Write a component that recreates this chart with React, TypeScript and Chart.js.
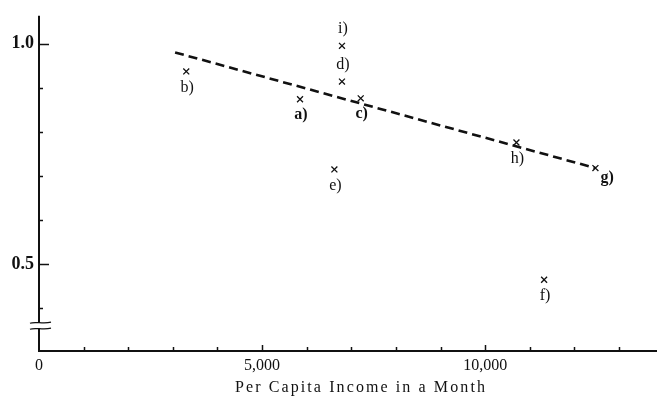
import React, { useEffect, useRef } from "react";
import { Chart, registerables } from "chart.js";

Chart.register(...registerables);

// ---- data ----
const pointLabels = ["a)", "b)", "c)", "d)", "e)", "f)", "g)", "h)", "i)"];
const incomeValues = [5850, 3300, 7210, 6790, 6620, 11320, 12470, 10700, 6790];
const ratioValues = [0.874, 0.937, 0.876, 0.914, 0.715, 0.465, 0.718, 0.776, 0.995];
const labelSides = ["below", "below", "below", "above", "below", "below", "right", "below", "above"];
const boldLabels = ["a)", "c)", "g)"];

const trendIncome = [3050, 12470];
const trendRatio = [0.98, 0.718];

const xTickValues = [0, 1000, 2000, 3000, 4000, 5000, 6000, 7000, 8000, 9000, 10000, 11000, 12000, 13000];
const xMajorTicks = [0, 5000, 10000];
const xMajorLabels = ["0", "5,000", "10,000"];

const yTickValues = [0.4, 0.5, 0.6, 0.7, 0.8, 0.9, 1.0];
const yMajorTicks = [0.5, 1.0];
const yMajorLabels = ["0.5", "1.0"];
const yBreakValue = 0.361;

const xTitle = "Per Capita Income in a Month";

const SERIF = "'Liberation Serif', 'DejaVu Serif', serif";

const decorPlugin = {
  id: "decor",
  afterDraw(chart: any) {
    const { ctx, chartArea, scales } = chart;
    const xs = scales.x;
    const ys = scales.y;
    const L = chartArea.left;
    const B = chartArea.bottom;
    ctx.save();
    ctx.strokeStyle = "#111";
    ctx.fillStyle = "#111";
    ctx.lineCap = "butt";

    // axes
    ctx.lineWidth = 2;
    ctx.beginPath();
    ctx.moveTo(L, chartArea.top);
    ctx.lineTo(L, B + 1);
    ctx.moveTo(L - 1, B);
    ctx.lineTo(chart.width, B);
    ctx.stroke();

    // y ticks (inward)
    ctx.lineWidth = 1.5;
    yTickValues.forEach((v) => {
      const py = Math.round(ys.getPixelForValue(v)) + 0.5;
      const len = yMajorTicks.includes(v) ? 10 : 4;
      ctx.beginPath();
      ctx.moveTo(L, py);
      ctx.lineTo(L + len, py);
      ctx.stroke();
    });

    // x ticks (inward)
    xTickValues.forEach((v) => {
      if (v === 0) return;
      const px = Math.round(xs.getPixelForValue(v)) + 0.5;
      const len = xMajorTicks.includes(v) ? 6 : 4;
      ctx.beginPath();
      ctx.moveTo(px, B);
      ctx.lineTo(px, B - len);
      ctx.stroke();
    });

    // axis break
    const by = ys.getPixelForValue(yBreakValue);
    ctx.fillStyle = "#fff";
    ctx.fillRect(L - 3, by - 3, 6, 6);
    ctx.lineWidth = 1.2;
    [-3, 3].forEach((off) => {
      ctx.beginPath();
      const y0 = by + off;
      ctx.moveTo(L - 9, y0 + 0.5);
      ctx.bezierCurveTo(L - 4, y0 - 1.5, L + 4, y0 + 1.5, L + 12, y0 - 0.5);
      ctx.stroke();
    });

    // point labels
    ctx.fillStyle = "#111";
    const meta = chart.getDatasetMeta(0);
    meta.data.forEach((el: any, i: number) => {
      const lab = pointLabels[i];
      const side = labelSides[i];
      const bold = boldLabels.includes(lab);
      ctx.font = `${bold ? "bold " : ""}16px ${SERIF}`;
      ctx.textBaseline = "middle";
      let tx = el.x;
      let ty = el.y;
      if (side === "below") {
        ctx.textAlign = "center";
        ty = el.y + 16;
        tx = el.x + 1;
      } else if (side === "above") {
        ctx.textAlign = "center";
        ty = el.y - 17;
        tx = el.x + 1;
      } else {
        ctx.textAlign = "left";
        tx = el.x + 5;
        ty = el.y + 10;
      }
      ctx.fillText(lab, tx, ty);
    });

    // x title
    ctx.font = `16px ${SERIF}`;
    (ctx as any).letterSpacing = "2.1px";
    ctx.textAlign = "center";
    ctx.textBaseline = "middle";
    ctx.fillText(xTitle, 361, 388);
    (ctx as any).letterSpacing = "0px";
    ctx.restore();
  },
};

export default function App() {
  const ref = useRef<HTMLCanvasElement | null>(null);

  useEffect(() => {
    document.body.style.margin = "0";
    const canvas = ref.current;
    if (!canvas) return;
    const chart = new Chart(canvas, {
      type: "scatter",
      data: {
        datasets: [
          {
            label: "points",
            data: incomeValues.map((x, i) => ({ x, y: ratioValues[i] })),
            pointStyle: "crossRot",
            pointRadius: 4.2,
            pointHoverRadius: 4.2,
            borderColor: "#111",
            borderWidth: 1.3,
            showLine: false,
          },
          {
            label: "trend",
            data: trendIncome.map((x, i) => ({ x, y: trendRatio[i] })),
            showLine: true,
            borderColor: "#111",
            borderWidth: 2.6,
            borderDash: [9, 5],
            pointRadius: 0,
            pointHoverRadius: 0,
            fill: false,
          },
        ],
      },
      options: {
        animation: false,
        responsive: false,
        maintainAspectRatio: false,
        layout: { autoPadding: false, padding: { top: 13, right: 0, left: 0, bottom: 0 } },
        plugins: {
          legend: { display: false },
          tooltip: { enabled: false },
          title: { display: false },
        },
        scales: {
          x: {
            type: "linear",
            min: 0,
            max: 13850,
            grid: { display: false, drawTicks: false },
            border: { display: false },
            afterFit: (s: any) => {
              s.height = 49;
              s.paddingRight = 0;
              s.paddingLeft = 0;
            },
            afterBuildTicks: (s: any) => {
              s.ticks = xTickValues.map((v) => ({ value: v }));
            },
            ticks: {
              autoSkip: false,
              maxRotation: 0,
              padding: 5,
              color: "#111",
              font: { family: SERIF, size: 16 },
              callback: (v: any) => {
                const idx = xMajorTicks.indexOf(Number(v));
                return idx >= 0 ? xMajorLabels[idx] : "";
              },
            },
          },
          y: {
            type: "linear",
            min: 0.3037,
            max: 1.063,
            grid: { display: false, drawTicks: false },
            border: { display: false },
            afterFit: (s: any) => {
              s.width = 39;
            },
            afterBuildTicks: (s: any) => {
              s.ticks = yTickValues.map((v) => ({ value: v }));
            },
            ticks: {
              autoSkip: false,
              padding: 5,
              color: "#111",
              font: { family: SERIF, size: 18, weight: "bold" },
              callback: (v: any) => {
                const idx = yMajorTicks.findIndex((t) => Math.abs(t - Number(v)) < 1e-6);
                return idx >= 0 ? yMajorLabels[idx] : "";
              },
            },
          },
        },
      },
      plugins: [decorPlugin],
    });
    return () => chart.destroy();
  }, []);

  return (
    <div style={{ width: 657, height: 400, background: "#fff" }}>
      <canvas ref={ref} width={657} height={400} style={{ display: "block" }} />
    </div>
  );
}
